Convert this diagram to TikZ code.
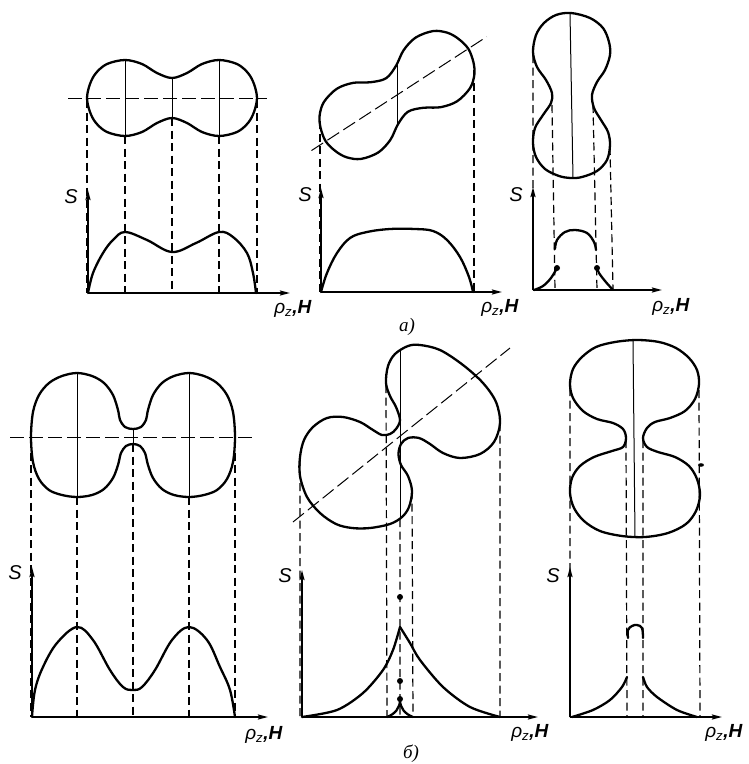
\documentclass[tikz,border=0pt]{standalone}
\usepackage{fontspec}
\setmainfont{Liberation Sans}
\newfontfamily\capfont{Liberation Serif}
\usetikzlibrary{arrows.meta}

% two-lobe section used in the first two panels
\newcommand\peanut{plot[smooth cycle, tension=0.55] coordinates {(-85,0) (-82,-14) (-76,-25) (-65,-34) (-47,-38) (-30,-34) (-15,-25) (0,-20) (15,-25) (30,-34) (47,-38) (65,-34) (76,-25) (82,-14) (85,0) (82,14) (76,25) (65,34) (47,38) (30,34) (15,25) (0,20) (-15,25) (-30,34) (-47,38) (-65,34) (-76,25) (-82,14)}}
\newcommand\hlabel{\textit{ρ}\textsubscript{\textit{z}}\textbf{\textit{,H}}}

\begin{document}
\begin{tikzpicture}[
    x=1pt, y=-1pt,
    outline/.style={line width=2.3pt, line join=round, line cap=round},
    midline/.style={line width=1pt},
    proj/.style={line width=1.2pt, dash pattern=on 8pt off 4.5pt},
    symline/.style={line width=1pt, dash pattern=on 14pt off 5pt},
    axis/.style={line width=1.8pt, -{Stealth[length=10pt,width=5pt,inset=1.5pt]}},
    dot/.style={circle, fill, inner sep=0pt, minimum size=6pt},
    lab/.style={font=\fontsize{20}{22}\selectfont\itshape, inner sep=0pt},
    hlab/.style={font=\fontsize{19}{21}\selectfont, inner sep=0pt},
    figcap/.style={font=\fontsize{19}{21}\selectfont\capfont\itshape, inner sep=0pt}
]
\useasboundingbox (0,0) rectangle (749,764);

% panel a, left
\coordinate (oa1) at (88,293);
\draw[axis] (oa1) -- (88,190);
\draw[axis] (oa1) -- (290,293);
\node[lab] (sa1) at (71,197) {S};
\node[hlab] (ha1) at (293,309) {\hlabel};
\begin{scope}[shift={(172,98)}]
  \draw[outline] \peanut;
  \draw[symline] (-104,0) -- (95,0);
  \draw[midline] (-47,-38) -- (-47,38) (0,-20) -- (0,20) (47,-38) -- (47,38);
\end{scope}
\draw[proj] (87,100) -- (87,293) (125,136) -- (125,293) (172,118) -- (172,293)
  (219,136) -- (219,293) (257,100) -- (257,293);
\draw[outline] plot[smooth, tension=0.6] coordinates {(88,293) (93,273) (103,253) (113,240) (125,232) (147,240) (172,252) (196,243) (219,232) (233,237) (247,253) (253,273) (256,293)};

% panel a, middle
\coordinate (oa2) at (321,292);
\draw[axis] (oa2) -- (321,188);
\draw[axis] (oa2) -- (502,292);
\node[lab] (sa2) at (305,195) {S};
\node[hlab] (ha2) at (500,308) {\hlabel};
\begin{scope}[shift={(397,95)}, rotate=33]
  \draw[outline] \peanut;
  \draw[symline] (-102,0) -- (107,0);
\end{scope}
\draw[midline] (397,63) -- (397,127);
\draw[proj] (320,121) -- (320,292) (474,70) -- (474,292);
\draw[outline] plot[smooth, tension=0.6] coordinates {(321,292) (327,273) (337,253) (350,238) (367,232) (390,229) (415,229) (433,231) (447,240) (460,257) (469,277) (473,292)};

% panel a, right
\coordinate (oa3) at (533,290);
\draw[axis] (oa3) -- (533,187);
\draw[axis] (oa3) -- (662,290);
\node[lab] (sa3) at (516,195) {S};
\node[hlab] (ha3) at (671,307) {\hlabel};
\draw[outline] plot[smooth cycle, tension=0.55] coordinates {(571,13) (590,18) (603,28) (609,42) (610,55) (605,70) (597,82) (592,95) (594,108) (601,120) (608,132) (610,145) (607,160) (597,171) (582,177) (571,178) (559,176) (545,169) (536,157) (533,143) (535,128) (543,115) (551,103) (552,93) (546,80) (537,67) (533,52) (536,35) (544,23) (556,15)};
\draw[midline] (570,13) -- (573,178);
\draw[proj] (533,55) -- (533,290) (552,105) -- (555,290) (593,105) -- (597,290) (610,147) -- (613,290);
\draw[outline] plot[smooth, tension=0.6] coordinates {(534,290) (543,286) (551,278) (557,268)};
\draw[outline] plot[smooth, tension=0.6] coordinates {(613,290) (605,281) (599,273) (597,268)};
\node[dot] (da1) at (557,268) {};
\node[dot] (da2) at (597,268) {};
\draw[outline] plot[smooth, tension=0.6] coordinates {(555,249) (557,240) (565,232) (575,230) (587,233) (594,242) (596,250)};
\node[figcap] (capa) at (407,327) {а)};

% panel b, left
\coordinate (ob1) at (32,717);
\draw[axis] (ob1) -- (32,567);
\draw[axis] (ob1) -- (268,717);
\node[lab] (sb1) at (15,573) {S};
\node[hlab] (hb1) at (264,735) {\hlabel};
\draw[outline] plot[smooth cycle, tension=0.55] coordinates {(133,429) (141,427) (146,420) (148,410) (153,395) (162,383) (174,376) (189,373) (204,376) (217,383) (227,395) (233,412) (235,437) (233,462) (227,479) (217,490) (204,495) (189,497) (174,495) (162,489) (153,478) (148,465) (145,453) (140,446) (133,444) (126,446) (121,453) (118,465) (113,478) (104,489) (92,495) (77,497) (62,495) (49,490) (39,479) (33,462) (31,437) (33,412) (39,395) (49,383) (62,376) (77,373) (92,376) (104,383) (113,395) (118,410) (120,420) (125,427)};
\draw[symline] (10,437) -- (257,437);
\draw[midline] (77,373) -- (77,497) (189,373) -- (189,497) (133,429) -- (133,444);
\draw[proj] (31,440) -- (31,717) (77,497) -- (77,717) (133,444) -- (133,717)
  (189,497) -- (189,717) (235,440) -- (235,717);
\draw[outline] plot[smooth, tension=0.6] coordinates {(32,717) (35,690) (43,667) (57,643) (77,627) (93,640) (110,670) (123,687) (133,690) (142,687) (155,670) (172,640) (189,627) (207,640) (220,667) (230,690) (235,717)};

% panel b, middle
\coordinate (ob2) at (302,717);
\draw[axis] (ob2) -- (302,570);
\draw[axis] (ob2) -- (538,717);
\node[lab] (sb2) at (285,576) {S};
\node[hlab] (hb2) at (530,733) {\hlabel};
\draw[outline] plot[smooth cycle, tension=0.55] coordinates {(400,420) (396,407) (390,396) (386,383) (388,366) (395,354) (408,346) (420,345) (440,350) (463,365) (483,383) (496,402) (500,423) (494,442) (480,454) (460,458) (443,453) (430,444) (419,438) (408,438) (401,444) (398.5,454) (401,465) (408,476) (412,491) (409,507) (402,517) (390,524) (370,528) (352,528) (336,524) (320,513) (307,497) (300,476) (300,457) (304,440) (313,427) (327,418) (343,417) (360,422) (373,430) (382,435) (390,434) (396,429)};
\draw[symline] (293,522) -- (510,348);
\draw[midline] (400,351) -- (400,519);
\draw[proj] (300,458) -- (300,717) (386,385) -- (387,717) (400,519) -- (400,717)
  (412,491) -- (413,717) (500,423) -- (500,717);
\draw[outline] plot[smooth, tension=0.5] coordinates {(302,717) (337,710) (363,693) (383,670) (393,650) (400,627)};
\draw[outline] plot[smooth, tension=0.5] coordinates {(400,627) (410,643) (420,660) (443,687) (470,707) (500,717)};
\node[dot] (db1) at (400,597) {};
\node[dot] (db2) at (400,681) {};
\node[dot] (db3) at (400,699) {};
\draw[outline] (387,717) .. controls (395,714) and (400,708) .. (400,700)
  .. controls (400,708) and (405,714) .. (413,717);
\node[figcap] (capb) at (411,754) {б)};

% panel b, right
\coordinate (ob3) at (570,717);
\draw[axis] (ob3) -- (570,567);
\draw[axis] (ob3) -- (722,717);
\node[lab] (sb3) at (553,576) {S};
\node[hlab] (hb3) at (724,733) {\hlabel};
\draw[outline] plot[smooth cycle, tension=0.55] coordinates {(637,340) (659,342) (676,348) (689,358) (697,370) (699,384) (695,399) (685,411) (670,418) (655,422) (647,428) (643,438) (647,447) (658,452) (675,457) (689,466) (697,479) (700,495) (696,511) (686,524) (668,533) (645,537) (622,536) (600,531) (584,521) (574,508) (570,493) (572,478) (580,466) (594,457) (612,451) (623,447) (626,438) (623,429) (613,423) (597,419) (583,411) (573,398) (570,384) (573,369) (582,357) (596,347) (615,342)};
\draw[midline] (633,340) -- (635,537);
\fill (701,465) ellipse [x radius=3, y radius=1.8];
\draw[proj] (570,388) -- (570,717) (626,440) -- (627,717) (643,440) -- (643,717) (699,390) -- (700,717);
\draw[outline] plot[smooth, tension=0.5] coordinates {(572,717) (593,710) (610,700) (622,687) (627,677)};
\draw[outline] plot[smooth, tension=0.5] coordinates {(697,717) (677,710) (657,697) (647,687) (643,677)};
\draw[outline] plot[smooth, tension=0.6] coordinates {(628,638) (628,630) (632,626) (637,625) (642,628) (643,638)};

\end{tikzpicture}
\end{document}
